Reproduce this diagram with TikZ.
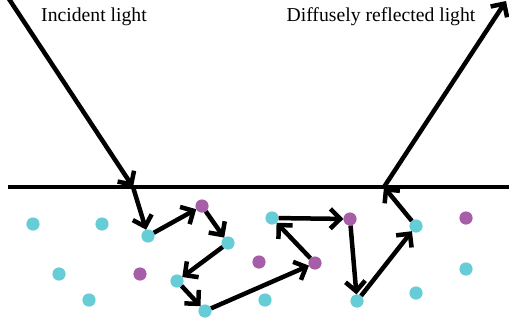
\documentclass[tikz,border=0pt]{standalone}
\usepackage{fontspec}
\setmainfont{Liberation Serif}
\usetikzlibrary{arrows.meta}
\definecolor{cyandot}{RGB}{102,204,214}
\definecolor{purpledot}{RGB}{167,94,168}

\begin{document}
\begin{tikzpicture}[x=0.025cm, y=-0.025cm,
                    ray/.style={line width=3.2pt, -{Straight Barb[length=7pt,width=14pt]}},
                    cdot/.style={circle, fill=cyandot, inner sep=0pt, outer sep=0pt, minimum size=0.33cm},
                    pdot/.style={circle, fill=purpledot, inner sep=0pt, outer sep=0pt, minimum size=0.33cm},
                    label/.style={font=\fontsize{14}{16}\selectfont}]
  \useasboundingbox (0,0) rectangle (509,325);
  \node[label] (inlabel) at (94,17) {Incident light};
  \node[label] (outlabel) at (381,17) {Diffusely reflected light};
  \coordinate (left) at (8,187);
  \coordinate (right) at (512,187);
  \coordinate (src) at (9,-1);
  \coordinate (hit) at (133,187);
  \coordinate (out) at (384,187);
  \coordinate (dst) at (506,1);
  \draw[line width=3.2pt] (left) -- (right);
  \node[cdot] (c1) at (33,224) {};
  \node[cdot] (c2) at (102,224) {};
  \node[cdot] (c3) at (148,236) {};
  \node[cdot] (c4) at (59,274) {};
  \node[cdot] (c5) at (89,300) {};
  \node[cdot] (c6) at (228,243) {};
  \node[cdot] (c7) at (177,281) {};
  \node[cdot] (c8) at (205,311) {};
  \node[cdot] (c9) at (272,218) {};
  \node[cdot] (c10) at (265,300) {};
  \node[cdot] (c11) at (357,301) {};
  \node[cdot] (c12) at (416,226) {};
  \node[cdot] (c13) at (416,293) {};
  \node[cdot] (c14) at (466,269) {};
  \node[pdot] (p1) at (202,206) {};
  \node[pdot] (p2) at (140,274) {};
  \node[pdot] (p3) at (259,262) {};
  \node[pdot] (p4) at (315,263) {};
  \node[pdot] (p5) at (350,219) {};
  \node[pdot] (p6) at (466,218) {};
  \draw[ray] (src) -- (hit);
  \draw[ray] (hit) -- (c3);
  \draw[ray] (c3) -- (p1);
  \draw[ray] (p1) -- (c6);
  \draw[ray] (c6) -- (c7);
  \draw[ray] (c7) -- (c8);
  \draw[ray] (c8) -- (p4);
  \draw[ray] (p4) -- (c9);
  \draw[ray] (c9) -- (p5);
  \draw[ray] (p5) -- (c11);
  \draw[ray] (c11) -- (c12);
  \draw[ray] (c12) -- (out);
  \draw[ray] (out) -- (dst);
\end{tikzpicture}
\end{document}
